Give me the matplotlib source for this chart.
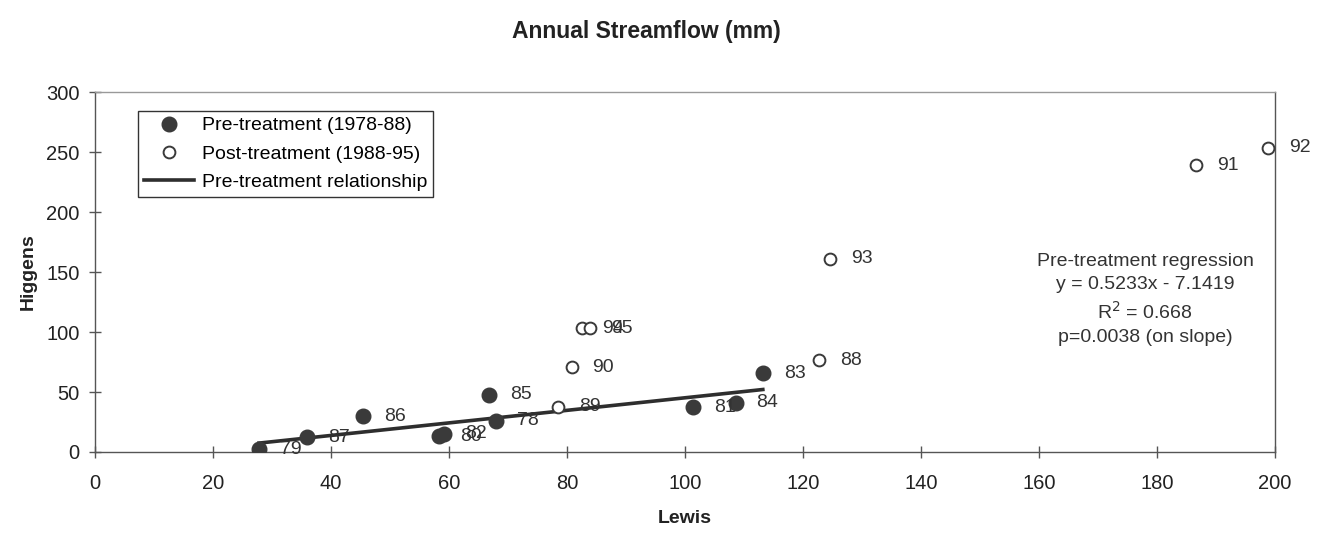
import matplotlib.pyplot as plt

plt.rcParams['font.family'] = ['Liberation Sans', 'DejaVu Sans']

# pre-treatment years (filled)
pre_years = ['78', '79', '80', '81', '82', '83', '84', '85', '86', '87']
pre_lewis = [68.0, 27.8, 58.3, 101.4, 59.2, 113.2, 108.6, 66.8, 45.5, 36.0]
pre_higgens = [26.0, 2.2, 13.0, 37.3, 15.0, 65.7, 41.2, 47.6, 30.0, 12.3]

# post-treatment years (open)
post_years = ['88', '89', '90', '91', '92', '93', '94', '95']
post_lewis = [122.8, 78.5, 80.8, 186.6, 198.9, 124.6, 82.5, 83.9]
post_higgens = [76.3, 37.8, 70.8, 239.0, 253.7, 161.0, 103.3, 103.3]

# regression on pre-treatment
slope = 0.5233
intercept = -7.1419
fit_x = [27.8, 113.2]
fit_y = [slope * v + intercept for v in fit_x]

fig = plt.figure(figsize=(13.3, 5.33), dpi=100)
ax = fig.add_axes([0.0714, 0.152, 0.8872, 0.675])

ink = '#3a3a3a'
ax.plot(pre_lewis, pre_higgens, 'o', color=ink, markersize=10.5, linestyle='none',
        label='Pre-treatment (1978-88)', zorder=3)
ax.plot(post_lewis, post_higgens, 'o', markerfacecolor='white', markeredgecolor=ink,
        markeredgewidth=1.4, markersize=8.5, linestyle='none',
        label='Post-treatment (1988-95)', zorder=3)
ax.plot(fit_x, fit_y, color='#2e2e2e', linewidth=2.6, label='Pre-treatment relationship', zorder=2)

for xs, ys, labs in [(pre_lewis, pre_higgens, pre_years), (post_lewis, post_higgens, post_years)]:
    for x, y, t in zip(xs, ys, labs):
        ax.annotate(t, (x, y), xytext=(15, 0), textcoords='offset points',
                    va='center', ha='left', fontsize=14, color='#333333', zorder=4)

ax.set_xlim(0, 200)
ax.set_ylim(0, 300)
ax.set_xticks(range(0, 201, 20))
ax.set_yticks(range(0, 301, 50))
ax.tick_params(direction='inout', length=8, width=1, colors='#555555', labelcolor='#222222',
               labelsize=14.5)
ax.tick_params(axis='x', pad=12)
ax.tick_params(axis='y', pad=7)
for s in ax.spines.values():
    s.set_color('#555555')
    s.set_linewidth(1)
ax.spines['top'].set_color('#999999')

ax.set_xlabel('Lewis', fontsize=14, fontweight='bold', color='#222222', labelpad=12)
ax.set_ylabel('Higgens', fontsize=14, fontweight='bold', color='#222222', labelpad=7)

fig.text(0.486, 0.94, 'Annual Streamflow (mm)', ha='center', va='center',
         fontsize=16.5, fontweight='bold', color='#222222',
         family=['Liberation Sans Narrow', 'Liberation Sans', 'DejaVu Sans'])

ax.text(178, 127, 'Pre-treatment regression\ny = 0.5233x - 7.1419\nR$^2$ = 0.668\np=0.0038 (on slope)',
        ha='center', va='center', fontsize=14, color='#333333', linespacing=1.45)

leg = ax.legend(loc='upper left', bbox_to_anchor=(0.028, 0.975), fontsize=14,
                frameon=True, fancybox=False, edgecolor='#333333', framealpha=1,
                handlelength=2.6, borderpad=0.3, labelspacing=0.55, handletextpad=0.4)
leg.get_frame().set_linewidth(1)

fig.savefig('out.png', dpi=100)
